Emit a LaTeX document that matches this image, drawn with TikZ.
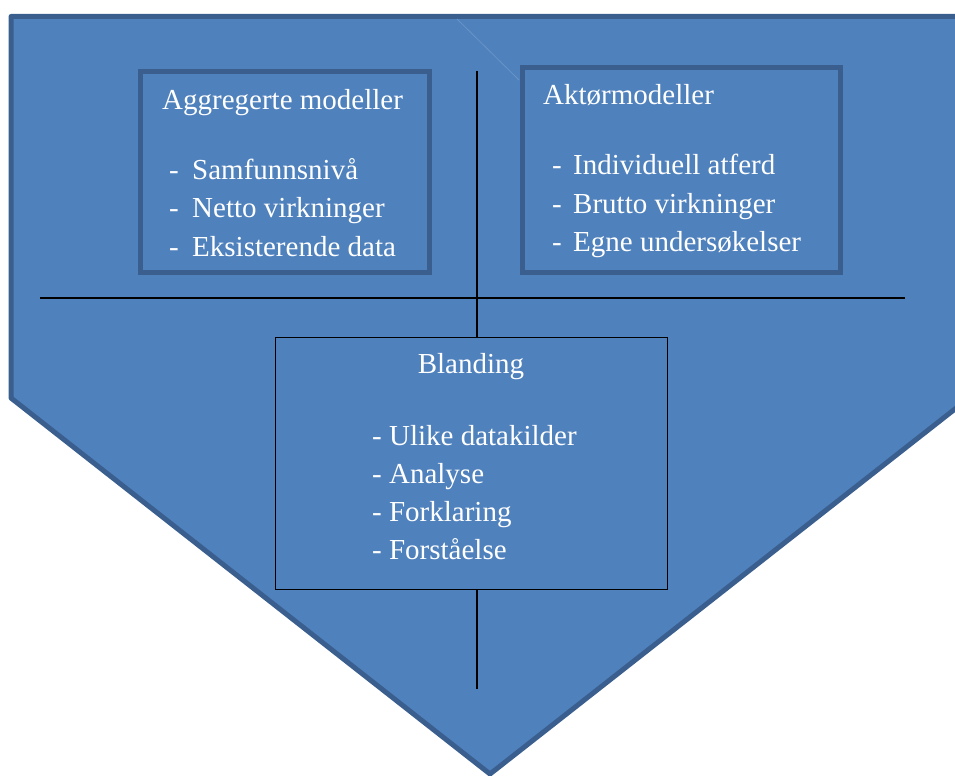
\documentclass[tikz,border=0pt]{standalone}
\usepackage{fontspec}
\setmainfont{Liberation Serif}
\definecolor{panelblue}{HTML}{4F81BD}
\definecolor{edgeblue}{HTML}{3A5F8E}
\tikzset{
  boxtext/.style={text=white, inner sep=0pt, font=\fontsize{29}{34}\selectfont},
  modelbox/.style={draw=edgeblue, line width=5pt, inner sep=0pt},
}

\begin{document}
\begin{tikzpicture}[x=1pt,y=-1pt]
		\useasboundingbox (0,0) rectangle (955,778);
		\begin{scope}
		\clip (0,0) rectangle (955,778);
		\draw[edgeblue, line width=5pt, fill=panelblue, line join=round] (11,16.5) -- (969,16.5) -- (969,398) -- (490,774) -- (11,398) -- cycle;
		\end{scope}
		\draw[panelblue!85!white, line width=0.8pt] (457,19) -- (519,80);
		% boxes
		\node[modelbox, minimum width=289pt, minimum height=200pt] (agg) at (284.5,172) {};
		\node[modelbox, minimum width=318pt, minimum height=204pt] (akt) at (681,170) {};
		\node[draw=black, line width=1pt, minimum width=392pt, minimum height=252pt] (mix) at (471,463) {};
		% titles
		\node[boxtext, anchor=base west] (aggtitle) at (162,110) {Aggregerte modeller};
		\node[boxtext, anchor=base west] (akttitle) at (543,105) {Aktørmodeller};
		\node[boxtext, anchor=base] (mixtitle) at (471,373) {Blanding};
		% lists
		\foreach \txt [count=\i] in {Samfunnsnivå,Netto virkninger,Eksisterende data}{
		\node[boxtext, anchor=base west] (aggdash\i) at (169,{180+38*(\i-1)}) {-};
		\node[boxtext, anchor=base west] (aggitem\i) at (192,{180+38*(\i-1)}) {\txt};
		}
		\foreach \txt [count=\i] in {Individuell atferd,Brutto virkninger,Egne undersøkelser}{
		\node[boxtext, anchor=base west] (aktdash\i) at (552,{175+38*(\i-1)}) {-};
		\node[boxtext, anchor=base west] (aktitem\i) at (573,{175+38*(\i-1)}) {\txt};
		}
		\foreach \txt [count=\i] in {Ulike datakilder,Analyse,Forklaring,Forståelse}{
		\node[boxtext, anchor=base west] (mixitem\i) at (372,{445+38.3*(\i-1)}) {- \txt};
		}
		% axes
		\coordinate (vtop) at (477,71);
		\coordinate (vbot) at (477,689);
		\coordinate (hleft) at (40,298);
		\coordinate (hright) at (905,298);
		\draw[line width=1.5pt] (vtop) -- (vtop |- mix.north);
		\draw[line width=1.5pt] (vtop |- mix.south) -- (vbot);
		\draw[line width=1.2pt] (hleft) -- (hright);
		\end{tikzpicture}
\end{document}
